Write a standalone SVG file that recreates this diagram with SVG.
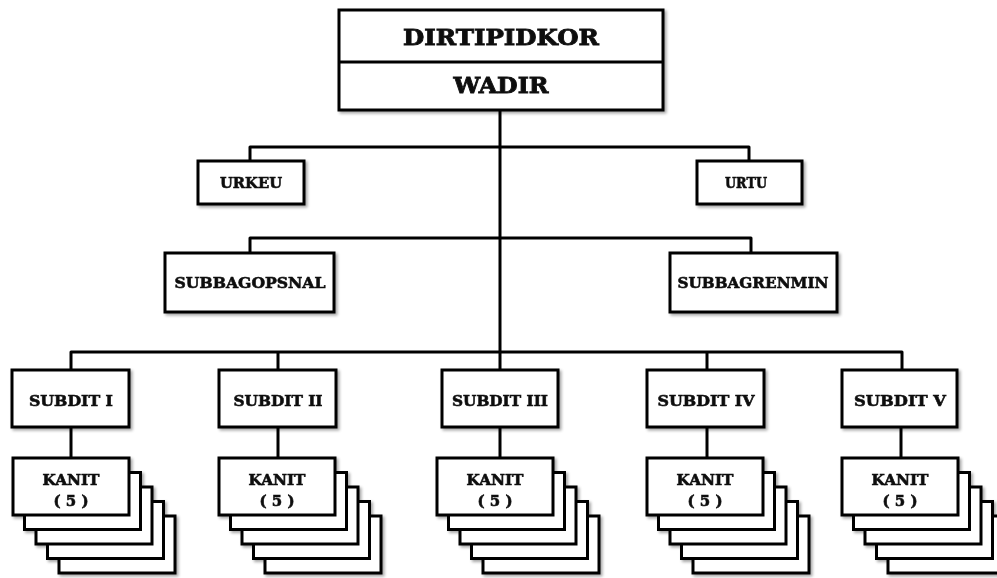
<svg xmlns="http://www.w3.org/2000/svg" xmlns:xlink="http://www.w3.org/1999/xlink" width="997" height="578" viewBox="0 0 997 578">
  <style>
    .box { fill: #fff; stroke: #000; stroke-width: 3; }
    .line { fill: none; stroke: #000; stroke-width: 3; stroke-linejoin: round; }
    .lbl { font-family: "DejaVu Serif", "Liberation Serif", serif; font-weight: bold; fill: #111; stroke: #111; stroke-width: 0.6; text-anchor: middle; }
    .big { font-size: 23px; stroke-width: 0.9; }
    .mid { font-size: 15px; }
    .sm { font-size: 14px; }
    .num { font-size: 15px; }
  </style>
  <defs>
    <filter id="shadow" x="-10%" y="-10%" width="130%" height="140%">
      <feGaussianBlur in="SourceAlpha" stdDeviation="1.5"/>
      <feOffset dx="1.5" dy="2" result="b"/>
      <feComponentTransfer><feFuncA type="linear" slope="0.35"/></feComponentTransfer>
      <feMerge><feMergeNode/><feMergeNode in="SourceGraphic"/></feMerge>
    </filter>
    <!-- five stacked cards: four behind, one in front -->
    <g id="stack">
      <rect class="box" x="46" y="58" width="116" height="57"/>
      <rect class="box" x="34.5" y="43.5" width="116" height="57"/>
      <rect class="box" x="23" y="29" width="116" height="57"/>
      <rect class="box" x="11.5" y="14.5" width="116" height="57"/>
      <rect class="box" x="0" y="0" width="116" height="57"/>
    </g>
  </defs>

  <g id="connectors">
    <path class="line" d="M500 110 V352"/>
    <path class="line" d="M250 161 V147 H749 V161"/>
    <path class="line" d="M250 253 V238 H751 V253"/>
    <path class="line" d="M71 370 V352 H902 V370"/>
    <path class="line" d="M278 352 V370 M500 352 V370 M707 352 V370"/>
    <path class="line" d="M71 427 V458 M278 427 V458 M500 427 V458 M707 427 V458 M901 427 V458"/>
  </g>

  <g id="dirtipidkor" filter="url(#shadow)">
    <rect class="box" x="339" y="10" width="324" height="100"/>
    <line class="line" x1="339" y1="62" x2="663" y2="62"/>
    <text class="lbl big" x="501" y="45" textLength="196" lengthAdjust="spacingAndGlyphs">DIRTIPIDKOR</text>
    <text class="lbl big" x="501" y="93" textLength="95" lengthAdjust="spacingAndGlyphs">WADIR</text>
  </g>

  <g id="urkeu" filter="url(#shadow)">
    <rect class="box" x="198" y="161" width="106" height="43"/>
    <text class="lbl mid" x="251" y="188" textLength="62" lengthAdjust="spacingAndGlyphs">URKEU</text>
  </g>
  <g id="urtu" filter="url(#shadow)">
    <rect class="box" x="697" y="161" width="105" height="43"/>
    <text class="lbl mid" x="746" y="188" textLength="42" lengthAdjust="spacingAndGlyphs">URTU</text>
  </g>

  <g id="subbagopsnal" filter="url(#shadow)">
    <rect class="box" x="165" y="253" width="169" height="59"/>
    <text class="lbl mid" x="250" y="288" textLength="151" lengthAdjust="spacingAndGlyphs">SUBBAGOPSNAL</text>
  </g>
  <g id="subbagrenmin" filter="url(#shadow)">
    <rect class="box" x="670" y="253" width="167" height="59"/>
    <text class="lbl mid" x="753" y="288" textLength="151" lengthAdjust="spacingAndGlyphs">SUBBAGRENMIN</text>
  </g>

  <g id="subdit-1" filter="url(#shadow)">
    <rect class="box" x="12" y="370" width="117" height="57"/>
    <text class="lbl mid" x="71" y="406" textLength="84" lengthAdjust="spacingAndGlyphs">SUBDIT I</text>
  </g>
  <g id="subdit-2" filter="url(#shadow)">
    <rect class="box" x="219" y="370" width="117" height="57"/>
    <text class="lbl mid" x="278" y="406" textLength="89" lengthAdjust="spacingAndGlyphs">SUBDIT II</text>
  </g>
  <g id="subdit-3" filter="url(#shadow)">
    <rect class="box" x="442" y="370" width="116" height="57"/>
    <text class="lbl mid" x="500" y="406" textLength="96" lengthAdjust="spacingAndGlyphs">SUBDIT III</text>
  </g>
  <g id="subdit-4" filter="url(#shadow)">
    <rect class="box" x="647" y="370" width="117" height="57"/>
    <text class="lbl mid" x="706" y="406" textLength="97" lengthAdjust="spacingAndGlyphs">SUBDIT IV</text>
  </g>
  <g id="subdit-5" filter="url(#shadow)">
    <rect class="box" x="842" y="370" width="115" height="57"/>
    <text class="lbl mid" x="900" y="406" textLength="92" lengthAdjust="spacingAndGlyphs">SUBDIT V</text>
  </g>

  <g id="kanit-1" filter="url(#shadow)">
    <use xlink:href="#stack" href="#stack" x="13" y="458"/>
    <text class="lbl sm" x="71" y="485" textLength="57" lengthAdjust="spacingAndGlyphs">KANIT</text>
    <text class="lbl num" x="71" y="506" textLength="35" lengthAdjust="spacingAndGlyphs">( 5 )</text>
  </g>
  <g id="kanit-2" filter="url(#shadow)">
    <use xlink:href="#stack" href="#stack" x="219" y="458"/>
    <text class="lbl sm" x="277" y="485" textLength="57" lengthAdjust="spacingAndGlyphs">KANIT</text>
    <text class="lbl num" x="277" y="506" textLength="35" lengthAdjust="spacingAndGlyphs">( 5 )</text>
  </g>
  <g id="kanit-3" filter="url(#shadow)">
    <use xlink:href="#stack" href="#stack" x="437" y="458"/>
    <text class="lbl sm" x="495" y="485" textLength="57" lengthAdjust="spacingAndGlyphs">KANIT</text>
    <text class="lbl num" x="495" y="506" textLength="35" lengthAdjust="spacingAndGlyphs">( 5 )</text>
  </g>
  <g id="kanit-4" filter="url(#shadow)">
    <use xlink:href="#stack" href="#stack" x="647" y="458"/>
    <text class="lbl sm" x="705" y="485" textLength="57" lengthAdjust="spacingAndGlyphs">KANIT</text>
    <text class="lbl num" x="705" y="506" textLength="35" lengthAdjust="spacingAndGlyphs">( 5 )</text>
  </g>
  <g id="kanit-5" filter="url(#shadow)">
    <use xlink:href="#stack" href="#stack" x="842" y="458"/>
    <text class="lbl sm" x="900" y="485" textLength="57" lengthAdjust="spacingAndGlyphs">KANIT</text>
    <text class="lbl num" x="900" y="506" textLength="35" lengthAdjust="spacingAndGlyphs">( 5 )</text>
  </g>
</svg>
